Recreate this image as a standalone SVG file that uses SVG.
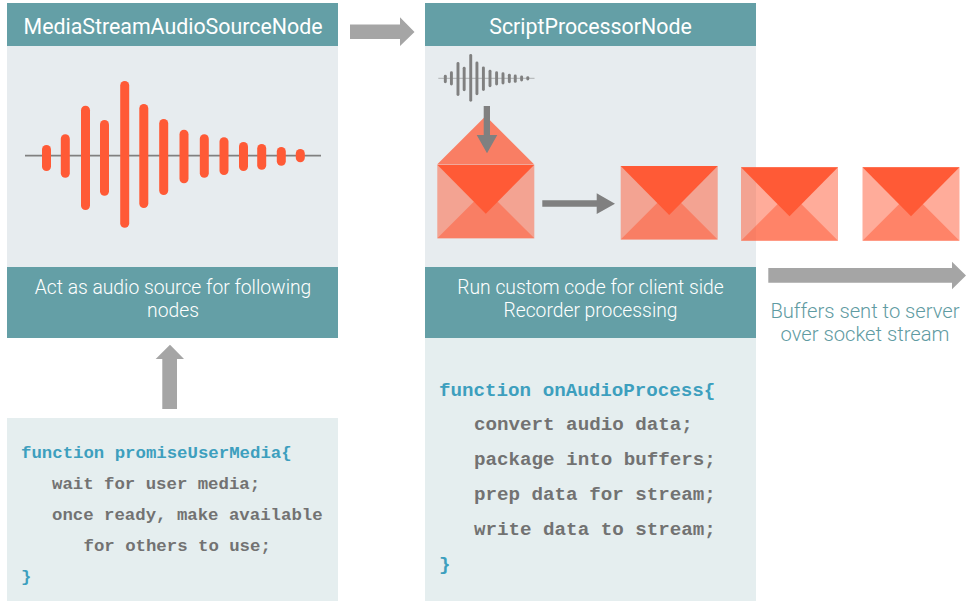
<svg xmlns="http://www.w3.org/2000/svg" xmlns:xlink="http://www.w3.org/1999/xlink" width="975" height="601" viewBox="0 0 975 601">
<style>
.teal{fill:#649fa6}
.body{fill:#e7ecef}
.code{fill:#e5eeef}
.hd{font:400 21.35px Roboto,sans-serif;fill:#fff;text-anchor:middle}
.cap{font:300 19.3px Roboto,sans-serif;fill:#fff;text-anchor:middle}
.note{font:300 20.2px Roboto,sans-serif;fill:#5f9ba2;text-anchor:middle}
.cl{font-family:"Liberation Mono",monospace;font-weight:700;fill:#727272;font-size:17.35px}
.cr{font-family:"Liberation Mono",monospace;font-weight:700;fill:#727272;font-size:19.2px}
.kw{fill:#3d9fbe}
.arrow-l{fill:#a5a5a5}
.arrow-d{fill:#808080}
</style>
<defs>
<g id="wave">
<line x1="25" y1="155.7" x2="321" y2="155.7" stroke="#808080" stroke-width="1.7"/>
<rect x="42" y="145" width="9" height="26" rx="4.5"/>
<rect x="60.8" y="134.3" width="9" height="43.4" rx="4.5"/>
<rect x="81" y="105.7" width="9" height="104.3" rx="4.5"/>
<rect x="100" y="120" width="9" height="75.7" rx="4.5"/>
<rect x="120.2" y="81" width="9" height="146.7" rx="4.5"/>
<rect x="139.3" y="104" width="9" height="104" rx="4.5"/>
<rect x="159.2" y="119" width="9" height="76" rx="4.5"/>
<rect x="179.5" y="129.7" width="9" height="53.6" rx="4.5"/>
<rect x="199.8" y="134.3" width="9" height="43.4" rx="4.5"/>
<rect x="219.5" y="137.3" width="9" height="37.7" rx="4.5"/>
<rect x="239" y="142" width="9" height="29" rx="4.5"/>
<rect x="257.2" y="144" width="9" height="25.7" rx="4.5"/>
<rect x="276.8" y="147" width="9" height="18.7" rx="4.5"/>
<rect x="295.8" y="149" width="9" height="13.3" rx="4.5"/>
</g>
<g id="env">
<rect x="0" y="0" width="97" height="73.5" fill="#ff5a36" fill-opacity=".5"/>
<polygon points="0,73.5 48.5,25 97,73.5" fill="#ff5a36" fill-opacity=".5"/>
<polygon points="0,0 97,0 48.5,49" fill="#ff5a36"/>
</g>
</defs>
<rect width="975" height="601" fill="#fff"/>

<g id="node-source">
<rect class="body" x="7" y="46" width="331" height="221"/>
<rect class="teal" x="7" y="3" width="331" height="43"/>
<rect class="teal" x="7" y="267" width="331" height="71"/>
<text class="hd" x="173" y="34">MediaStreamAudioSourceNode</text>
<use xlink:href="#wave" href="#wave" fill="#ff5a36"/>
<text class="cap" x="173" y="294">Act as audio source for following</text>
<text class="cap" x="173" y="317">nodes</text>
</g>

<g id="node-promise">
<rect class="code" x="7" y="418" width="331" height="183"/>
<text class="cl" x="21" y="458"><tspan class="kw">function promiseUserMedia{</tspan></text>
<text class="cl" x="52" y="489">wait for user media;</text>
<text class="cl" x="52" y="520">once ready, make available</text>
<text class="cl" x="83.5" y="551">for others to use;</text>
<text class="cl" x="21" y="582"><tspan class="kw">}</tspan></text>
</g>

<g id="node-processor">
<rect class="body" x="425" y="46" width="331" height="221"/>
<rect class="teal" x="425" y="3" width="331" height="43"/>
<rect class="teal" x="425" y="267" width="331" height="71"/>
<rect class="code" x="425" y="338" width="331" height="263"/>
<text class="hd" x="590.5" y="34">ScriptProcessorNode</text>
<use xlink:href="#wave" href="#wave" fill="#808080" transform="translate(430.2 27.7) scale(.325)"/>
<polygon points="437.3,164.3 485.7,116 534,164.3" fill="#ff5a36" fill-opacity=".75"/>
<use xlink:href="#env" href="#env" transform="translate(437.3 164.8)"/>
<use xlink:href="#env" href="#env" transform="translate(620.7 166)"/>
<text class="cap" x="590.5" y="294">Run custom code for client side</text>
<text class="cap" x="590.5" y="317">Recorder processing</text>
<text class="cr" x="439" y="396"><tspan class="kw">function onAudioProcess{</tspan></text>
<text class="cr" x="474" y="430">convert audio data;</text>
<text class="cr" x="474" y="465">package into buffers;</text>
<text class="cr" x="474" y="500">prep data for stream;</text>
<text class="cr" x="474" y="535">write data to stream;</text>
<text class="cr" x="439" y="570"><tspan class="kw">}</tspan></text>
</g>

<g id="node-buffers">
<use xlink:href="#env" href="#env" transform="translate(741 167.2)"/>
<use xlink:href="#env" href="#env" transform="translate(862.5 167.2)"/>
<text class="note" x="865" y="318">Buffers sent to server</text>
<text class="note" x="865" y="341">over socket stream</text>
</g>

<g id="connectors">
<polygon class="arrow-l" points="350,24.5 400,24.5 400,17.3 414.5,32 400,46 400,39 350,39"/>
<polygon class="arrow-l" points="162.3,409 162.3,359 155.7,359 170,344.7 184,359 177,359 177,409"/>
<polygon class="arrow-l" points="768.3,268 952,268 952,261.7 966,275.5 952,289.3 952,282.7 768.3,282.7"/>
<polygon class="arrow-d" points="483.7,106 490,106 490,135 497.3,135 487,153.3 476.7,135 483.7,135"/>
<polygon class="arrow-d" points="542.3,200.3 596.7,200.3 596.7,193.3 615,203.7 596.7,214 596.7,206.7 542.3,206.7"/>
</g>
</svg>
